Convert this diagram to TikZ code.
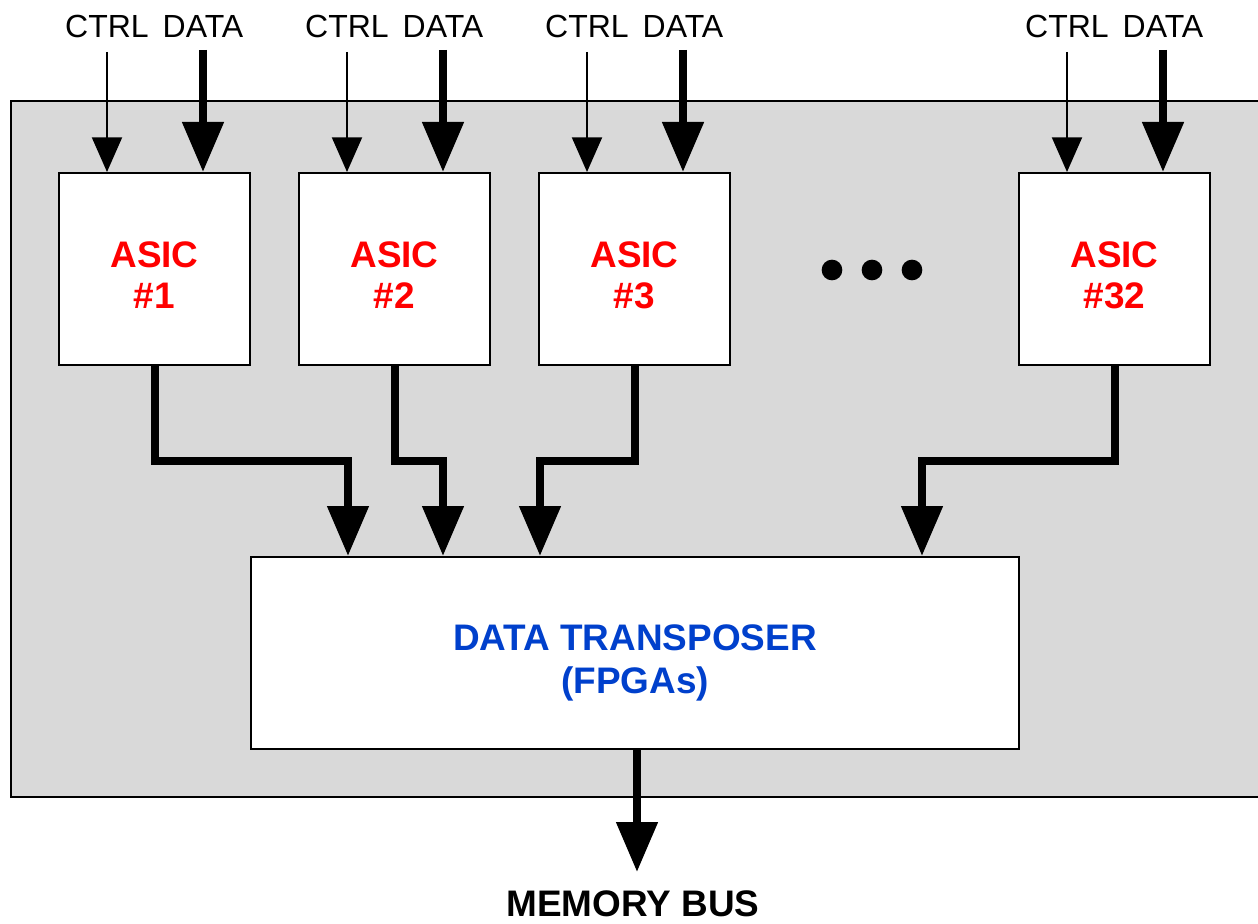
\documentclass[tikz,border=0pt]{standalone}
\usepackage{fontspec}
\setmainfont{Liberation Sans}
\usetikzlibrary{arrows.meta}
\definecolor{panelgray}{HTML}{D9D9D9}
\definecolor{asicred}{HTML}{FF0000}
\definecolor{tblue}{HTML}{0040CC}
\tikzset{
  box/.style={draw=black, line width=1.5pt, fill=white, minimum width=143.25pt, minimum height=144pt, inner sep=0pt},
  bigbox/.style={draw=black, line width=1.5pt, fill=white, minimum width=576pt, minimum height=144pt, inner sep=0pt},
  asiclabel/.style={font=\bfseries\fontsize{27.7}{30.75}\selectfont, text=asicred, align=center, inner sep=0pt},
  translabel/.style={font=\bfseries\fontsize{27.7}{32.25}\selectfont, text=tblue, align=center, inner sep=0pt},
  toplabel/.style={font=\fontsize{24}{28}\selectfont, inner sep=0pt},
  ctrlarrow/.style={line width=1.5pt, -{Triangle[length=26pt,width=22.5pt]}},
  dataarrow/.style={line width=6pt, line join=miter, -{Triangle[length=37.5pt,width=30pt]}},
  dot/.style={circle, fill=black, minimum size=15.5pt, inner sep=0pt},
}
\begin{document}
\begin{tikzpicture}[x=0.75pt,y=-0.75pt]
\useasboundingbox (0,0) rectangle (1258,924);
% panel
\draw[line width=1.5pt, fill=panelgray] (11,101) rectangle (1270,797);
% ASIC boxes
\node[box] (a1) at (154.5,269) {};
\node[box] (a2) at (394.5,269) {};
\node[box] (a3) at (634.5,269) {};
\node[box] (a32) at (1114.5,269) {};
\node[asiclabel] (l1) at (154.5,275) {ASIC\\\#1};
\node[asiclabel] (l2) at (394.5,275) {ASIC\\\#2};
\node[asiclabel] (l3) at (634.5,275) {ASIC\\\#3};
\node[asiclabel] (l32) at (1114.5,275) {ASIC\\\#32};
% dots
\node[dot] (d1) at (832,270) {};
\node[dot] (d2) at (872,270) {};
\node[dot] (d3) at (912,270) {};
% transposer
\node[bigbox] (t) at (635,653) {};
\node[translabel] (tl) at (635,663) {DATA TRANSPOSER\\(FPGAs)};
% top labels and input arrows
\foreach \n/\cx/\dx in {1/107/203, 2/347/443, 3/587/683, 32/1067/1163} {
  \node[toplabel] (ct\n) at (\cx,26) {CTRL};
  \node[toplabel] (dt\n) at (\dx,26) {DATA};
  \coordinate (cs\n) at (\cx,52);
  \coordinate (ds\n) at (\dx,50);
  \draw[ctrlarrow] (cs\n) -- (cs\n |- a\n.north);
  \draw[dataarrow] (ds\n) -- (ds\n |- a\n.north);
}
% outputs to transposer
\foreach \n/\tx in {1/348, 2/443, 3/540, 32/922} {
  \coordinate (m\n) at (\tx,461);
  \draw[dataarrow] (a\n.south) |- (m\n) -- (m\n |- t.north);
}
% memory bus
\node[font=\bfseries\fontsize{27.7}{32}\selectfont, inner sep=0pt] (mb) at (633,904) {MEMORY BUS};
\coordinate (mo) at (637,872);
\draw[dataarrow] (mo |- t.south) -- (mo);
\end{tikzpicture}
\end{document}
